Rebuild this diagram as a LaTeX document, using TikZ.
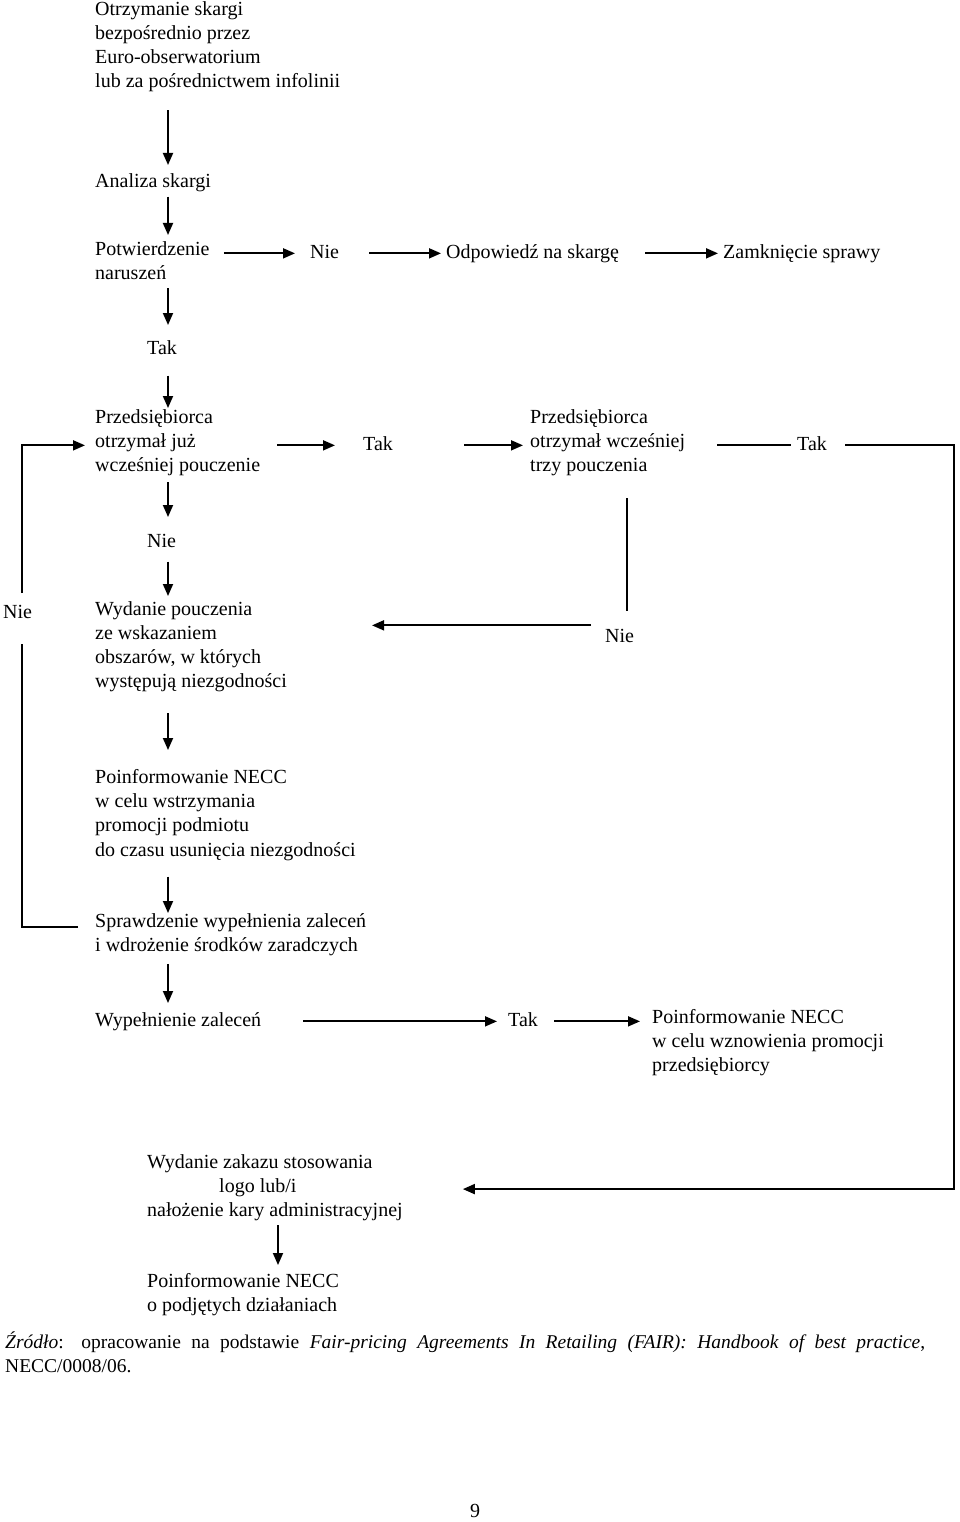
\documentclass[tikz,border=0pt]{standalone}
\usepackage{fontspec}
\setmainfont{Liberation Serif}
\usetikzlibrary{arrows.meta,calc}
\begin{document}
\begin{tikzpicture}[x=1pt,y=-1pt,
  txt/.style={anchor=north west,yshift=14pt,inner sep=0pt,align=left,font=\fontsize{20}{24.3}\selectfont,
    execute at begin node=\strut,execute at end node=\strut},
  ln/.style={line width=1.8pt,line join=miter},
  arr/.style={ln,-{Triangle[length=12pt,width=10pt]}}]
\useasboundingbox (0,0) rectangle (960,1522);
% columns
\coordinate (c1) at (168,0);
\coordinate (c2) at (278,0);
\coordinate (cL) at (22,0);
\coordinate (cR) at (954,0);
\coordinate (cN) at (627,0);
% nodes
\node[txt] (n1) at (95,15) {Otrzymanie skargi\\bezpośrednio przez\\Euro-obserwatorium\\lub za pośrednictwem infolinii};
\node[txt] (n2) at (95,184) {Analiza skargi};
\node[txt] (n3) at (95,255) {Potwierdzenie\\naruszeń};
\node[txt] (nieT) at (310,255) {Nie};
\node[txt] (odp) at (446,255) {Odpowiedź na skargę};
\node[txt] (zamk) at (723,255) {Zamknięcie sprawy};
\node[txt] (takT) at (147,351) {Tak};
\node[txt] (p1) at (95,423) {Przedsiębiorca\\otrzymał już\\wcześniej pouczenie};
\node[txt] (takM) at (363,447) {Tak};
\node[txt] (p2) at (530,423) {Przedsiębiorca\\otrzymał wcześniej\\trzy pouczenia};
\node[txt] (takR) at (797,447) {Tak};
\node[txt] (nieM) at (147,544) {Nie};
\node[txt] (nieL) at (3,615) {Nie};
\node[txt] (w1) at (95,615) {Wydanie pouczenia\\ze wskazaniem\\obszarów, w których\\występują niezgodności};
\node[txt] (nieR) at (605,639) {Nie};
\node[txt] (pf1) at (95,783) {Poinformowanie NECC\\w celu wstrzymania\\promocji podmiotu\\do czasu usunięcia niezgodności};
\node[txt] (sp) at (95,927) {Sprawdzenie wypełnienia zaleceń\\i wdrożenie środków zaradczych};
\node[txt] (wyp) at (95,1023) {Wypełnienie zaleceń};
\node[txt] (takB) at (508,1023) {Tak};
\node[txt] (pB) at (652,1023) {Poinformowanie NECC\\w celu wznowienia promocji\\przedsiębiorcy};
\node[txt] (wz) at (147,1168) {Wydanie zakazu stosowania\\\hspace*{72pt}logo lub/i\\nałożenie kary administracyjnej};
\node[txt] (pf2) at (147,1287) {Poinformowanie NECC\\o podjętych działaniach};
\node[anchor=base west,inner sep=0pt,text width=920pt,align=justify,font=\fontsize{19.5}{24.3}\selectfont] (src) at (5,1348)
  {\textit{Źródło}: opracowanie na podstawie \textit{Fair-pricing Agreements In Retailing (FAIR): Handbook of best practice},\linebreak NECC/0008/06.};
\node[anchor=base west,inner sep=0pt,font=\fontsize{20}{24.3}\selectfont] (pg) at (470,1517) {9};
% vertical arrows
\draw[arr,shorten <=15pt,shorten >=5pt] (n1.south -| c1) -- (n2.north -| c1);
\draw[arr,shorten <=2pt,shorten >=6pt] (n2.south -| c1) -- (n3.north -| c1);
\draw[arr,shorten <=1.5pt,shorten >=12pt] (n3.south -| c1) -- (takT.north -| c1);
\draw[arr,shorten <=14pt,shorten >=1pt] (takT.south -| c1) -- (p1.north -| c1);
\draw[arr,shorten <=3pt,shorten >=13pt] (p1.south -| c1) -- (nieM.north -| c1);
\draw[arr,shorten <=7pt,shorten >=5pt] (nieM.south -| c1) -- (w1.north -| c1);
\draw[arr,shorten <=18pt,shorten >=19pt] (w1.south -| c1) -- (pf1.north -| c1);
\draw[arr,shorten <=13pt,shorten >=0pt] (pf1.south -| c1) -- (sp.north -| c1);
\draw[arr,shorten <=5pt,shorten >=6pt] (sp.south -| c1) -- (wyp.north -| c1);
\draw[arr,shorten <=1pt,shorten >=8pt] (wz.south -| c2) -- (pf2.north -| c2);
% horizontal arrows
\draw[arr,shorten <=14pt,shorten >=15pt] (n3.east |- nieT.west) -- (nieT.west);
\draw[arr,shorten <=30pt,shorten >=5pt] (nieT.east) -- (odp.west);
\draw[arr,shorten <=26pt,shorten >=5pt] (odp.east) -- (zamk.west);
\draw[arr,shorten <=17pt,shorten >=28pt] (p1.east |- takM.west) -- (takM.west);
\draw[arr,shorten <=71pt,shorten >=7pt] (takM.east) -- (takM.east -| p2.west);
\draw[ln,shorten <=32pt,shorten >=6pt] (p2.east |- takR.west) -- (takR.west);
\draw[arr,shorten <=18pt,shorten >=60pt] (takR.east) -| (cR |- wz.east) -- (wz.east);
\draw[ln,shorten <=19pt,shorten >=14pt] (p2.south -| cN) -- (nieR.north -| cN);
\draw[arr,shorten <=14pt,shorten >=85pt] ([yshift=12pt]nieR.west) -- ([yshift=12pt]nieR.west -| w1.east);
\draw[ln,shorten >=18pt] ([xshift=-17pt,yshift=-14pt]sp.north west) -| (cL |- nieL.south);
\draw[arr,shorten <=8pt,shorten >=10pt] (cL |- nieL.north) |- (p1.west |- takM.west);
\draw[arr,shorten <=42pt,shorten >=11pt] (wyp.east) -- (takB.west);
\draw[arr,shorten <=16pt,shorten >=12pt] (takB.east) -- (takB.east -| pB.west);
\end{tikzpicture}
\end{document}
